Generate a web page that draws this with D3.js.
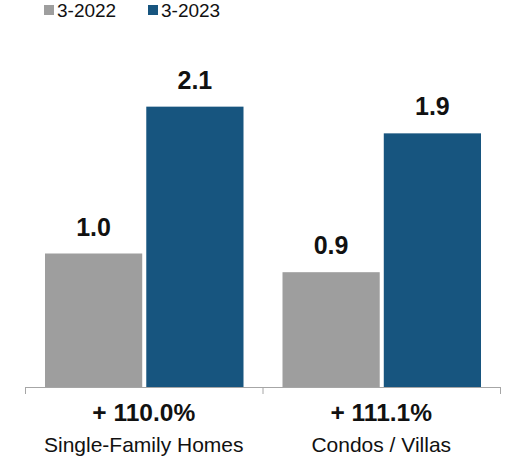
<!DOCTYPE html>
<html>
<head>
<meta charset="utf-8">
<script src="https://cdn.jsdelivr.net/npm/d3@7"></script>
<style>
  html, body { margin: 0; padding: 0; background: #fff; }
  svg { display: block; font-family: "Liberation Sans", Arial, Helvetica, sans-serif; }
</style>
</head>
<body>
<div id="chart"></div>
<script>
const categories = ["Single-Family Homes", "Condos / Villas"];
const seriesNames = ["3-2022", "3-2023"];
const values2022 = [1.0, 0.86];
const values2023 = [2.1, 1.9];
const changeLabels = ["+ 110.0%", "+ 111.1%"];
const seriesColors = ["#9e9e9e", "#17557f"];

const W = 508, H = 459;
const svg = d3.select("#chart").append("svg").attr("width", W).attr("height", H);

const axisY = 387;
const x0 = d3.scaleBand().domain(categories).range([25, 500]).padding(0);
const x1 = d3.scaleBand().domain(seriesNames).range([20, x0.bandwidth() - 19]).paddingInner(0.04).paddingOuter(0);
const y = d3.scaleLinear().domain([0, 2.5]).range([axisY, axisY - 2.5 * 133.5]);

const seriesValues = [values2022, values2023];
const data = categories.map((c, i) => ({
  cat: c,
  vals: seriesNames.map((s, j) => ({ s, j, v: seriesValues[j][i] }))
}));

const g = svg.selectAll("g.grp").data(data).join("g")
  .attr("class", "grp")
  .attr("transform", d => `translate(${x0(d.cat)},0)`);

g.selectAll("rect").data(d => d.vals).join("rect")
  .attr("x", d => x1(d.s))
  .attr("width", x1.bandwidth())
  .attr("y", d => y(d.v))
  .attr("height", d => y(0) - y(d.v))
  .attr("fill", d => seriesColors[d.j]);

g.selectAll("text.val").data(d => d.vals).join("text")
  .attr("class", "val")
  .attr("x", d => x1(d.s) + x1.bandwidth() / 2)
  .attr("y", d => y(d.v) - 18)
  .attr("text-anchor", "middle")
  .attr("font-size", 25)
  .attr("font-weight", "bold")
  .attr("fill", "#111")
  .text(d => d3.format(".1f")(d.v));

// axis
const axis = d3.axisBottom(x0).tickSize(0).tickFormat("");
const ax = svg.append("g").attr("transform", `translate(0,${axisY})`).call(axis);
ax.select(".domain").remove();
ax.append("line").attr("x1", 25).attr("x2", 500).attr("y1", 0.5).attr("y2", 0.5)
  .attr("stroke", "#a6a6a6").attr("stroke-width", 1);
const tickXs = [x0.range()[0]].concat(categories.map(c => x0(c) + x0.bandwidth()));
ax.selectAll("line.tk").data(tickXs).join("line")
  .attr("class", "tk")
  .attr("x1", d => d + 0.5).attr("x2", d => d + 0.5)
  .attr("y1", 0).attr("y2", 7)
  .attr("stroke", "#a6a6a6").attr("stroke-width", 1);

svg.selectAll("text.chg").data(categories).join("text")
  .attr("class", "chg")
  .attr("x", d => x0(d) + x0.bandwidth() / 2)
  .attr("y", 421)
  .attr("text-anchor", "middle")
  .attr("font-size", 24.5)
  .attr("font-weight", "bold")
  .attr("fill", "#111")
  .text((d, i) => changeLabels[i]);

svg.selectAll("text.cat").data(categories).join("text")
  .attr("class", "cat")
  .attr("x", d => x0(d) + x0.bandwidth() / 2)
  .attr("y", 452)
  .attr("text-anchor", "middle")
  .attr("font-size", 21)
  .attr("fill", "#111")
  .text(d => d);

// legend
const legendX = [44, 148];
const lg = svg.selectAll("g.leg").data(seriesNames).join("g")
  .attr("class", "leg")
  .attr("transform", (d, i) => `translate(${legendX[i]},0)`);
lg.append("rect").attr("x", 0).attr("y", 5).attr("width", 10).attr("height", 10)
  .attr("fill", (d, i) => seriesColors[i]);
lg.append("text").attr("x", 13).attr("y", 17)
  .attr("font-size", 19).attr("fill", "#111")
  .text(d => d);
</script>
</body>
</html>
